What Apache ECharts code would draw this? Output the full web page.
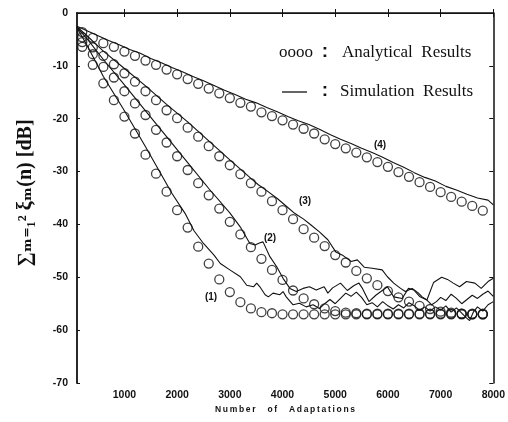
<!DOCTYPE html>
<html>
<head>
<meta charset="utf-8">
<script src="https://cdn.jsdelivr.net/npm/echarts@6/dist/echarts.min.js"></script>
<style>
  html, body { margin: 0; padding: 0; background: #fff; }
  #chart { width: 508px; height: 422px; }
</style>
</head>
<body>
<div id="chart"></div>
<script>
// x positions of the analytical points (circles)
const anaX = [200, 400, 600, 800, 1000, 1200, 1400, 1600, 1800, 2000,
  2200, 2400, 2600, 2800, 3000, 3200, 3400, 3600, 3800, 4000,
  4200, 4400, 4600, 4800, 5000, 5200, 5400, 5600, 5800, 6000,
  6200, 6400, 6600, 6800, 7000, 7200, 7400, 7600, 7800];

// analytical results, curves (1)..(4)
const ana1 = [-6.4, -9.8, -13.3, -16.5, -19.6, -22.8, -26.8, -30.4, -33.8, -37.3,
  -40.6, -44.2, -47.4, -50.4, -52.8, -54.7, -55.9, -56.6, -56.8, -57.0,
  -57.0, -57.0, -57.0, -57.0, -57.0, -57.0, -57.0, -57.0, -57.0, -57.0,
  -57.0, -57.0, -57.0, -57.0, -57.0, -57.0, -57.0, -57.0, -57.0];
const ana2 = [-5.5, -7.8, -10.2, -12.2, -14.8, -17.1, -19.3, -22.1, -24.5, -27.1,
  -29.7, -32.2, -34.5, -37.0, -39.5, -41.9, -44.3, -46.5, -48.6, -50.5,
  -52.5, -54.0, -55.1, -55.9, -56.4, -56.7, -56.8, -56.9, -56.9, -56.9,
  -56.9, -56.9, -56.9, -56.9, -56.9, -56.9, -56.9, -56.9, -56.9];
const ana3 = [-4.6, -6.5, -8.1, -9.7, -11.4, -13.0, -14.8, -16.5, -18.4, -19.9,
  -21.7, -23.4, -25.2, -27.1, -28.8, -30.5, -32.2, -33.8, -35.6, -37.3,
  -39.0, -40.9, -42.5, -44.1, -45.8, -47.2, -48.8, -50.2, -51.5, -52.6,
  -53.8, -54.6, -55.4, -56.0, -56.5, -56.7, -56.9, -57.0, -57.0];
const ana4 = [-3.6, -4.7, -5.7, -6.4, -7.3, -8.1, -9.0, -9.8, -10.7, -11.6,
  -12.5, -13.4, -14.3, -15.2, -16.1, -17.0, -17.7, -18.8, -19.5, -20.3,
  -21.1, -21.9, -22.8, -23.9, -24.8, -25.6, -26.4, -27.3, -28.2, -29.1,
  -30.1, -31.0, -32.0, -32.9, -33.9, -34.8, -35.7, -36.5, -37.4];

// simulation results (solid lines)
const sim1X = [100, 300, 600, 1000, 1400, 1650, 1900, 2150, 2320, 2500,
  2700, 2820, 3000, 3200, 3320, 3450, 3510, 3570, 3670, 3730,
  3820, 3950, 4010, 4070, 4200, 4320, 4450, 4580, 4700, 4800,
  4900, 5000, 5100, 5200, 5300, 5400, 5500, 5600, 5700, 5800,
  5900, 6000, 6100, 6200, 6300, 6400, 6500, 6600, 6700, 6800,
  6900, 7000, 7100, 7200, 7300, 7400, 7480, 7550, 7620, 7700,
  7800, 7900, 8000];
const sim1Y = [-2.8, -6.3, -12.0, -18.5, -25.3, -29.7, -34.1, -37.9, -41.2, -43.6,
  -45.8, -47.4, -48.6, -49.9, -51.5, -51.8, -51.1, -51.8, -53.3, -53.7,
  -53.0, -53.3, -52.7, -53.7, -55.2, -54.9, -55.6, -55.2, -55.9, -55.0,
  -54.2, -55.0, -54.0, -53.0, -53.6, -52.8, -53.8, -55.2, -54.8, -55.6,
  -54.6, -55.4, -56.0, -55.2, -55.8, -54.8, -55.4, -56.2, -55.6, -56.4,
  -55.6, -56.2, -55.4, -56.6, -55.8, -56.8, -57.6, -58.2, -56.6, -55.6,
  -56.4, -55.2, -54.6];

const sim2X = [100, 300, 600, 1000, 1400, 1800, 2200, 2600, 3000, 3200,
  3380, 3480, 3560, 3630, 3760, 3890, 4010, 4140, 4260, 4390,
  4510, 4640, 4790, 4860, 4950, 5100, 5230, 5350, 5450, 5510,
  5640, 5770, 5880, 5990, 6110, 6270, 6390, 6490, 6610, 6740,
  6865, 7020, 7130, 7240, 7360, 7490, 7650, 7770, 7900, 8000];
const sim2Y = [-2.7, -5.0, -8.8, -13.6, -18.5, -23.4, -28.3, -33.2, -37.8, -40.5,
  -43.6, -43.9, -43.5, -43.3, -46.1, -48.0, -50.2, -52.1, -52.7, -52.1,
  -51.8, -52.4, -51.8, -53.0, -52.0, -51.1, -52.5, -51.6, -51.1, -52.0,
  -54.6, -53.4, -52.6, -51.8, -53.7, -54.0, -52.1, -52.4, -53.7, -54.3,
  -51.0, -50.0, -50.4, -51.1, -51.8, -50.8, -51.1, -52.1, -50.8, -50.2];

const sim3X = [100, 300, 600, 1000, 1400, 1800, 2200, 2600, 3000, 3400,
  3540, 3700, 3900, 4100, 4230, 4400, 4540, 4700, 4860, 5010,
  5150, 5300, 5420, 5550, 5700, 5890, 5990, 6110, 6240, 6330,
  6460, 6580, 6650, 6740, 6830, 6920, 7000, 7100, 7200, 7300,
  7400, 7500, 7600, 7700, 7800, 7900, 8000];
const sim3Y = [-2.6, -4.4, -7.2, -10.5, -13.8, -17.3, -20.6, -24.2, -27.8, -31.3,
  -32.5, -33.6, -35.1, -36.8, -37.9, -39.0, -40.1, -41.4, -42.9, -45.2,
  -45.9, -47.0, -46.7, -48.1, -48.3, -48.6, -49.9, -51.1, -52.1, -52.7,
  -52.1, -53.0, -53.7, -54.3, -55.2, -54.6, -53.8, -54.4, -53.2, -54.0,
  -55.0, -54.2, -53.4, -54.0, -53.2, -52.6, -53.6];

const sim4X = [100, 300, 500, 700, 900, 1100, 1300, 1500, 1700, 1900,
  2100, 2300, 2500, 2700, 2900, 3100, 3300, 3500, 3700, 3900,
  4100, 4300, 4500, 4700, 4900, 5100, 5300, 5500, 5700, 5900,
  6100, 6300, 6500, 6700, 6900, 7100, 7300, 7500, 7700, 7900, 8000];
const sim4Y = [-2.5, -3.4, -4.3, -5.2, -6.0, -6.9, -7.6, -8.6, -9.4, -10.3,
  -11.1, -12.0, -12.8, -13.7, -14.6, -15.4, -16.3, -17.0, -17.9, -18.7,
  -19.6, -20.4, -21.1, -22.0, -23.0, -23.9, -24.7, -25.6, -26.4, -27.3,
  -28.3, -29.2, -30.2, -31.1, -31.8, -32.8, -33.5, -34.3, -35.0, -35.4, -36.3];

const xTicks = [1000, 2000, 3000, 4000, 5000, 6000, 7000, 8000];
const curveLabels = ['(1)', '(2)', '(3)', '(4)'];

function pairs(xs, ys) {
    return xs.map(function (x, i) { return [x, ys[i]]; });
}

const INK = '#111';
const tickFont = {
    color: INK, fontFamily: 'Liberation Sans, Arial, sans-serif', fontWeight: 'bold', fontSize: 10.5,
    formatter: function (v) { return String(v); }
};

const anaSeries = [ana1, ana2, ana3, ana4].map(function (ys) {
    return {
        type: 'scatter',
        data: pairs(anaX, ys),
        symbol: 'circle',
        symbolSize: 9,
        itemStyle: { color: 'rgba(0,0,0,0)', borderColor: INK, borderWidth: 1.3 },
        silent: true,
        z: 3
    };
});

const simSeries = [[sim1X, sim1Y], [sim2X, sim2Y], [sim3X, sim3Y], [sim4X, sim4Y]].map(function (s) {
    return {
        type: 'line',
        data: pairs(s[0], s[1]),
        showSymbol: false,
        lineStyle: { color: INK, width: 1.1 },
        silent: true,
        z: 2
    };
});

// label positions in pixels (curve number labels)
const labelPos = [[211, 297], [270, 238], [305, 201], [380, 145]];

const chart = echarts.init(document.getElementById('chart'), null, { renderer: 'canvas' });

chart.setOption({
    animation: false,
    backgroundColor: '#fff',
    grid: { left: 77, right: 11, top: 13, bottom: 39 },
    xAxis: [
        {
            type: 'value', min: 100, max: 8000,
            axisLine: { show: true, lineStyle: { color: INK, width: 1.5 } },
            axisTick: { show: true, inside: true, length: 4, customValues: xTicks, lineStyle: { color: INK } },
            axisLabel: Object.assign({ customValues: xTicks, margin: 7 }, tickFont),
            splitLine: { show: false }
        },
        {
            type: 'value', min: 100, max: 8000, position: 'top',
            axisLine: { show: true, lineStyle: { color: INK, width: 1 } },
            axisTick: { show: true, inside: true, length: 4, customValues: xTicks, lineStyle: { color: INK } },
            axisLabel: { show: false },
            splitLine: { show: false }
        }
    ],
    yAxis: [
        {
            type: 'value', min: -70, max: 0, interval: 10,
            axisLine: { show: true, lineStyle: { color: INK, width: 1.8 } },
            axisTick: { show: true, inside: true, length: 3, lineStyle: { color: INK } },
            axisLabel: Object.assign({ margin: 9 }, tickFont),
            splitLine: { show: false }
        },
        {
            type: 'value', min: -70, max: 0, interval: 10, position: 'right',
            axisLine: { show: true, lineStyle: { color: INK, width: 1.5 } },
            axisTick: { show: true, inside: true, length: 4, lineStyle: { color: INK } },
            axisLabel: { show: false },
            splitLine: { show: false }
        }
    ],
    series: anaSeries.concat(simSeries),
    graphic: [
        {
            type: 'text', x: 285, y: 410,
            style: {
                text: 'N\u2009u\u2009m\u2009b\u2009e\u2009r     o\u2009f     A\u2009d\u2009a\u2009p\u2009t\u2009a\u2009t\u2009i\u2009o\u2009n\u2009s',
                font: 'bold 8.5px Liberation Sans, Arial, sans-serif', fill: INK,
                align: 'center', verticalAlign: 'middle'
            }
        },
        {
            type: 'text', x: 26, y: 193, rotation: Math.PI / 2,
            style: {
                text: '\u2211\u2098\u208c\u2081\u00b2 \u03be\u2098(n) [dB]',
                font: 'bold 20px Liberation Serif, DejaVu Serif, serif',
                fill: INK, align: 'center', verticalAlign: 'middle'
            }
        },
        {
            type: 'text', x: 279, y: 53,
            style: { text: 'oooo', font: '17px Liberation Serif, serif', fill: INK, verticalAlign: 'middle' }
        },
        {
            type: 'text', x: 325, y: 52,
            style: { text: ':', font: 'bold 19px Liberation Sans, sans-serif', fill: INK, align: 'center', verticalAlign: 'middle' }
        },
        {
            type: 'text', x: 342, y: 53,
            style: { text: 'Analytical  Results', font: '17px Liberation Serif, serif', fill: INK, verticalAlign: 'middle' }
        },
        {
            type: 'line', shape: { x1: 282, y1: 92, x2: 307, y2: 92 },
            style: { stroke: INK, lineWidth: 1.3 }
        },
        {
            type: 'text', x: 325, y: 91,
            style: { text: ':', font: 'bold 19px Liberation Sans, sans-serif', fill: INK, align: 'center', verticalAlign: 'middle' }
        },
        {
            type: 'text', x: 340, y: 92,
            style: { text: 'Simulation  Results', font: '17px Liberation Serif, serif', fill: INK, verticalAlign: 'middle' }
        }
    ].concat(curveLabels.map(function (t, i) {
        return {
            type: 'text', x: labelPos[i][0], y: labelPos[i][1],
            style: { text: t, font: 'bold 10px Liberation Sans, Arial, sans-serif', fill: INK, align: 'center', verticalAlign: 'middle' }
        };
    }))
});
</script>
</body>
</html>
